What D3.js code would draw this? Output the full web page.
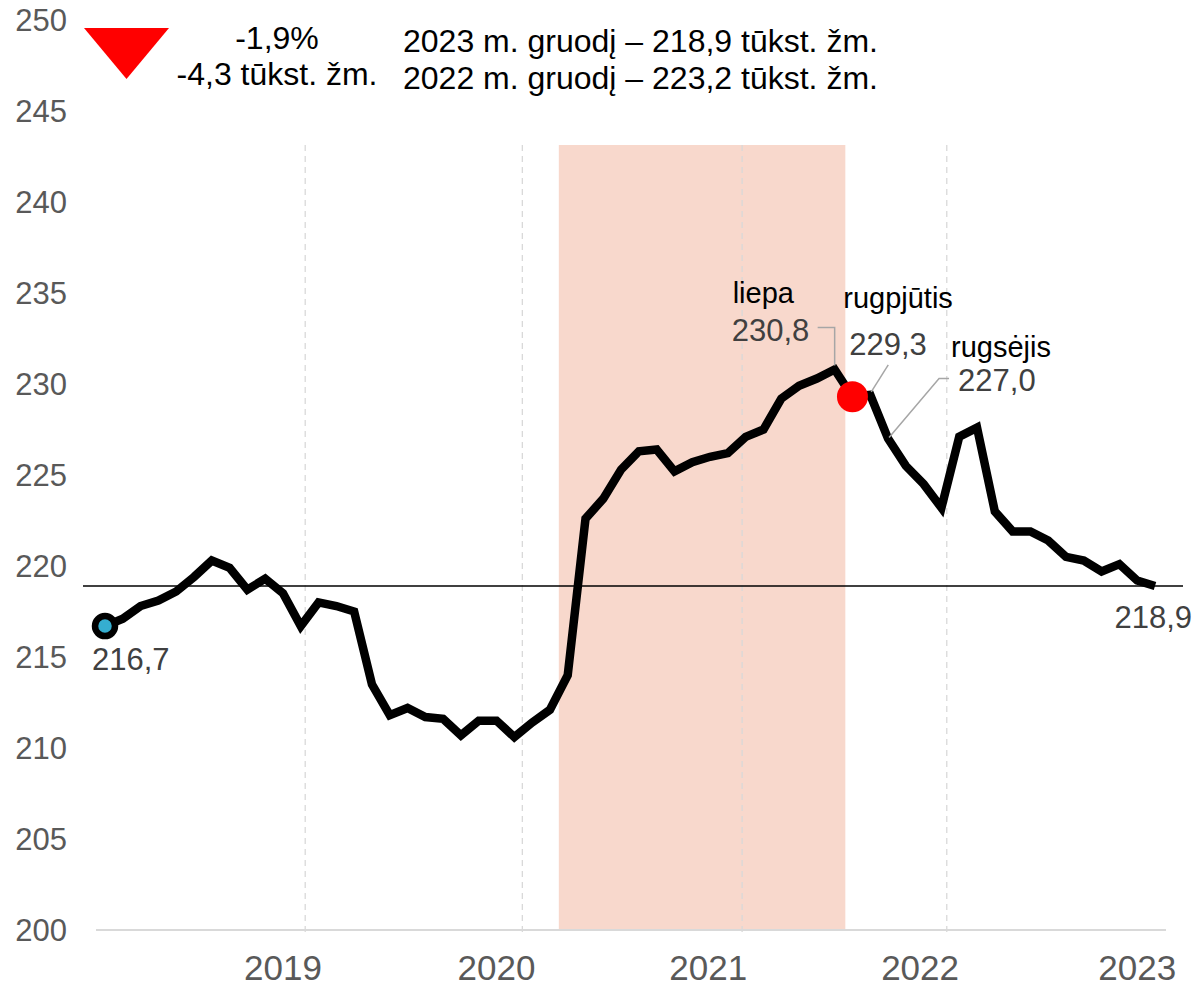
<!DOCTYPE html>
<meta charset="utf-8">
<style>
body{margin:0;background:#fff;}
svg text{font-family:"Liberation Sans",Arial,Helvetica,sans-serif;}
.ytick{fill:#595959;font-size:31px;}
.year{fill:#595959;font-size:35px;}
.val{fill:#404040;font-size:31px;}
.mon{fill:#000;font-size:29px;}
.head{fill:#000;font-size:32px;}
.grid{stroke:#d9d9d9;stroke-width:1.3;stroke-dasharray:6,5;}
.leader{fill:none;stroke:#a6a6a6;stroke-width:1.5;}
</style>
<body>
<div id="chart"></div>
<script src="https://cdn.jsdelivr.net/npm/d3@7"></script>
<script>

// monthly values, 2019-01 .. 2023-12 (tūkst. žm.)
var months = [
 '2019-01','2019-02','2019-03','2019-04','2019-05','2019-06','2019-07','2019-08','2019-09','2019-10','2019-11','2019-12',
 '2020-01','2020-02','2020-03','2020-04','2020-05','2020-06','2020-07','2020-08','2020-09','2020-10','2020-11','2020-12',
 '2021-01','2021-02','2021-03','2021-04','2021-05','2021-06','2021-07','2021-08','2021-09','2021-10','2021-11','2021-12',
 '2022-01','2022-02','2022-03','2022-04','2022-05','2022-06','2022-07','2022-08','2022-09','2022-10','2022-11','2022-12',
 '2023-01','2023-02','2023-03','2023-04','2023-05','2023-06','2023-07','2023-08','2023-09','2023-10','2023-11','2023-12'];
var values = [
 216.7,217.1,217.8,218.1,218.6,219.4,220.3,219.9,218.7,219.3,218.5,216.7,
 218.0,217.8,217.5,213.5,211.8,212.2,211.7,211.6,210.7,211.5,211.5,210.6,
 211.4,212.1,214.0,222.6,223.7,225.3,226.3,226.4,225.2,225.7,226.0,226.2,
 227.1,227.5,229.2,229.9,230.3,230.8,229.3,229.4,227.0,225.5,224.5,223.2,
 227.1,227.6,223.0,221.9,221.9,221.4,220.5,220.3,219.7,220.1,219.2,218.9];

var yTicks = [200,205,210,215,220,225,230,235,240,245,250];
var yearLabels = ['2019','2020','2021','2022','2023'];
var yearLabelAt = [10, 22, 33.9, 45.8, 58];     // month index
var yearGridAt = [11.25, 23.45, 35.8, 47.3];    // month index
var shade = [25.5, 41.6];                        // month index
var markIndex = 42;                              // red dot

var callouts = [
  {i:41, name:'liepa',     text:'230,8'},
  {i:43, name:'rugpjūtis', text:'229,3'},
  {i:44, name:'rugsėjis',  text:'227,0'}
];
var headPct = '-1,9%', headAbs = '-4,3 tūkst. žm.';
var headLines = ['2023 m. gruodį – 218,9 tūkst. žm.', '2022 m. gruodį – 223,2 tūkst. žm.'];

var W = 1197, H = 990;
var svg = d3.select('#chart').append('svg').attr('width', W).attr('height', H);

var x = d3.scaleLinear().domain([0, months.length - 1]).range([105, 1155]);
var y = d3.scaleLinear().domain([200, 250]).range([930, 20]);
var last = values.length - 1;

// shaded period
svg.append('rect')
  .attr('x', x(shade[0])).attr('y', 145)
  .attr('width', x(shade[1]) - x(shade[0])).attr('height', y(200) - 145)
  .attr('fill', '#f8d8cc');

// year grid lines
svg.selectAll('.grid').data(yearGridAt).enter().append('line')
  .attr('class', 'grid')
  .attr('x1', d => x(d)).attr('x2', d => x(d))
  .attr('y1', 145).attr('y2', y(200) + 7);

// x axis line
svg.append('line')
  .attr('x1', 96).attr('x2', 1166).attr('y1', y(200)).attr('y2', y(200))
  .attr('stroke', '#d9d9d9').attr('stroke-width', 2);

// y tick labels
svg.selectAll('.ytick').data(yTicks).enter().append('text')
  .attr('class', 'ytick')
  .attr('x', 67).attr('y', d => y(d)).attr('dy', '0.36em')
  .attr('text-anchor', 'end')
  .text(d => d);

// year labels
svg.selectAll('.year').data(yearLabels).enter().append('text')
  .attr('class', 'year')
  .attr('x', (d, i) => x(yearLabelAt[i])).attr('y', 980)
  .attr('text-anchor', 'middle')
  .text(d => d);

// reference line at last value
svg.append('line')
  .attr('x1', 83).attr('x2', 1183).attr('y1', y(values[last])).attr('y2', y(values[last]))
  .attr('stroke', '#000').attr('stroke-width', 1.3);

// main line
var line = d3.line().x((d, i) => x(i)).y(d => y(d));
svg.append('path').datum(values)
  .attr('d', line)
  .attr('fill', 'none').attr('stroke', '#000')
  .attr('stroke-width', 8.5).attr('stroke-linejoin', 'miter');

// start marker
svg.append('circle')
  .attr('cx', x(0)).attr('cy', y(values[0])).attr('r', 10)
  .attr('fill', '#35aed0').attr('stroke', '#000').attr('stroke-width', 6.5);

// red marker
svg.append('circle')
  .attr('cx', x(markIndex)).attr('cy', y(values[markIndex])).attr('r', 15.5)
  .attr('fill', '#ff0000');

// start / end values
svg.append('text').attr('class', 'val')
  .attr('x', x(0) - 13).attr('y', y(values[0]) + 44)
  .text(d3.format('.1f')(values[0]).replace('.', ','));
svg.append('text').attr('class', 'val')
  .attr('x', x(last) + 37).attr('y', y(values[last]) + 42)
  .attr('text-anchor', 'end')
  .text(d3.format('.1f')(values[last]).replace('.', ','));

// callouts: label offsets and leader paths relative to the point
var calloutLayout = [
  {nx:-102, ny:-66, vx:-103, vy:-28, lead:[[-17,-42],[0,-42],[0,-4]]},
  {nx:-27,  ny:-87, vx:-21,  vy:-40, lead:[[18,-30],[1,-3]]},
  {nx:63,   ny:-82, vx:70,   vy:-48, lead:[[61,-60],[51,-60],[1,-1]]}
];
callouts.forEach(function(c, k){
  var L = calloutLayout[k], px = x(c.i), py = y(values[c.i]);
  svg.append('path').attr('class', 'leader')
    .attr('d', d3.line()(L.lead.map(p => [px + p[0], py + p[1]])));
  svg.append('text').attr('class', 'mon')
    .attr('x', px + L.nx).attr('y', py + L.ny).text(c.name);
  svg.append('text').attr('class', 'val')
    .attr('x', px + L.vx).attr('y', py + L.vy).text(c.text);
});

// header
svg.append('path')
  .attr('d', 'M84,28 L169,28 L126.5,79 Z')
  .attr('fill', '#ff0000');
svg.append('text').attr('class', 'head')
  .attr('x', 277).attr('y', 49).attr('text-anchor', 'middle').text(headPct);
svg.append('text').attr('class', 'head')
  .attr('x', 277).attr('y', 85).attr('text-anchor', 'middle').text(headAbs);
svg.selectAll('.hl').data(headLines).enter().append('text')
  .attr('class', 'head')
  .attr('x', 403).attr('y', (d, i) => 52 + i * 37)
  .text(d => d);

</script>
</body>
</html>
